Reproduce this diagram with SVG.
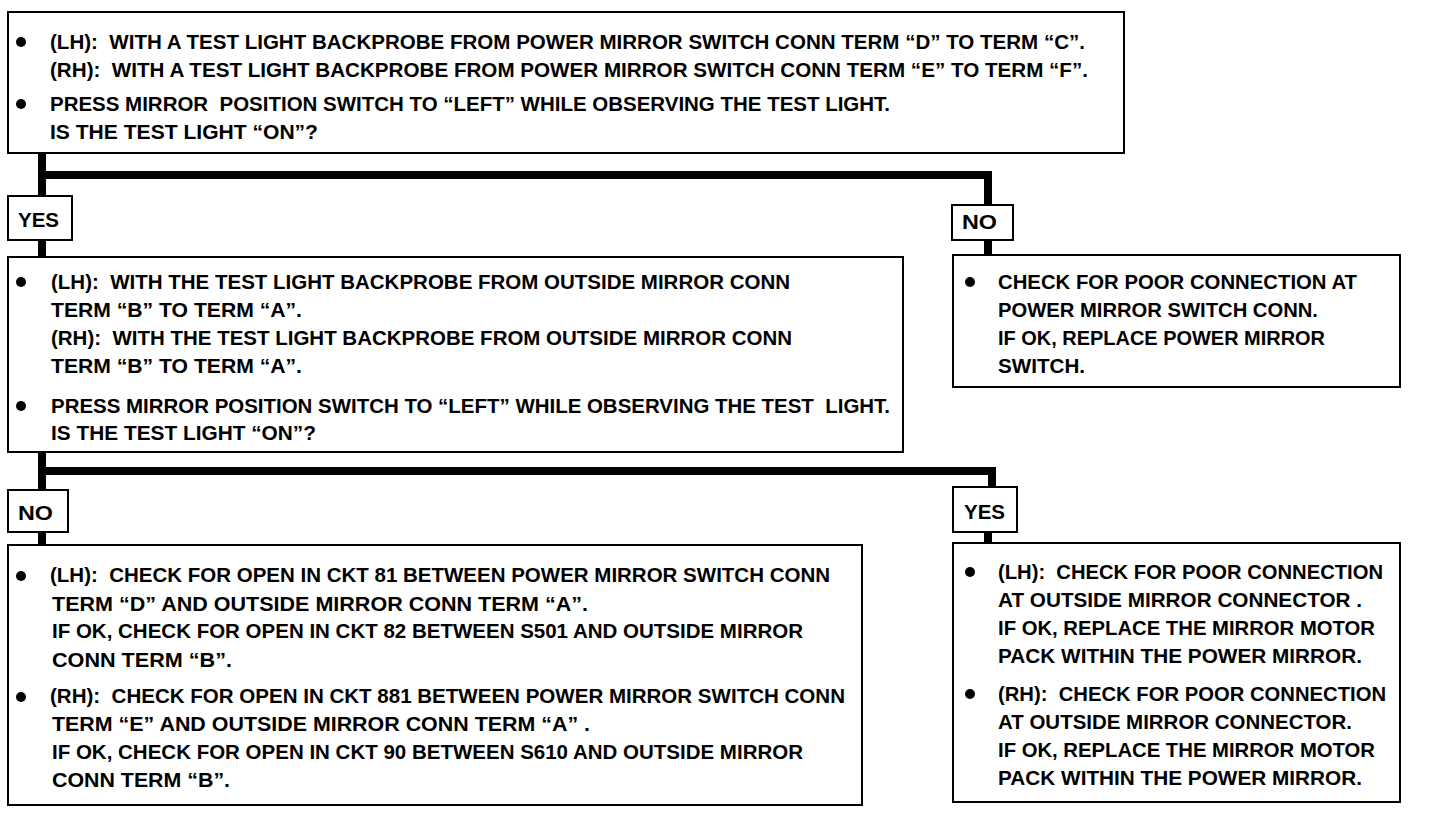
<svg xmlns="http://www.w3.org/2000/svg" width="1440" height="814" viewBox="0 0 1440 814">
<style>
.box{fill:#fff;stroke:#000;stroke-width:2}
.t{font-family:"Liberation Sans",Arial,sans-serif;font-weight:bold;font-size:20.5px;fill:#000;white-space:pre}
.c{fill:none;stroke:#000;stroke-width:8;stroke-linejoin:miter}
.b{fill:#000}
</style>
<rect width="1440" height="814" fill="#fff"/>
<g id="connectors">
<polyline class="c" points="42,153 42,196"/>
<polyline class="c" points="42,175 988,175 988,205"/>
<polyline class="c" points="42,240 42,257"/>
<polyline class="c" points="988,240 988,255"/>
<polyline class="c" points="42,452 42,490"/>
<polyline class="c" points="42,471 992,471 992,487"/>
<polyline class="c" points="42,532 42,545"/>
<polyline class="c" points="988,532 988,543"/>
</g>
<g id="q1">
<rect class="box" x="8" y="12" width="1116" height="141"/>
<circle class="b" cx="21" cy="42" r="5"/>
<circle class="b" cx="21" cy="104" r="5"/>
<text class="t" x="50" y="49" textLength="1035" lengthAdjust="spacingAndGlyphs">(LH):  WITH A TEST LIGHT BACKPROBE FROM POWER MIRROR SWITCH CONN TERM “D” TO TERM “C”.</text>
<text class="t" x="50" y="77" textLength="1038" lengthAdjust="spacingAndGlyphs">(RH):  WITH A TEST LIGHT BACKPROBE FROM POWER MIRROR SWITCH CONN TERM “E” TO TERM “F”.</text>
<text class="t" x="50" y="111" textLength="840" lengthAdjust="spacingAndGlyphs">PRESS MIRROR  POSITION SWITCH TO “LEFT” WHILE OBSERVING THE TEST LIGHT.</text>
<text class="t" x="50" y="139" textLength="268" lengthAdjust="spacingAndGlyphs">IS THE TEST LIGHT “ON”?</text>
</g>
<g id="yes1">
<rect class="box" x="8" y="196" width="64" height="44"/>
<text class="t" x="18" y="227" textLength="41" lengthAdjust="spacingAndGlyphs">YES</text>
</g>
<g id="no1">
<rect class="box" x="952" y="205" width="61" height="35"/>
<text class="t" x="962" y="229" textLength="35" lengthAdjust="spacingAndGlyphs">NO</text>
</g>
<g id="q2">
<rect class="box" x="8" y="257" width="895" height="195"/>
<circle class="b" cx="21" cy="282" r="5"/>
<circle class="b" cx="21" cy="406" r="5"/>
<text class="t" x="51" y="289" textLength="739" lengthAdjust="spacingAndGlyphs">(LH):  WITH THE TEST LIGHT BACKPROBE FROM OUTSIDE MIRROR CONN</text>
<text class="t" x="51" y="317" textLength="251" lengthAdjust="spacingAndGlyphs">TERM “B” TO TERM “A”.</text>
<text class="t" x="51" y="345" textLength="741" lengthAdjust="spacingAndGlyphs">(RH):  WITH THE TEST LIGHT BACKPROBE FROM OUTSIDE MIRROR CONN</text>
<text class="t" x="51" y="373" textLength="251" lengthAdjust="spacingAndGlyphs">TERM “B” TO TERM “A”.</text>
<text class="t" x="51" y="413" textLength="839" lengthAdjust="spacingAndGlyphs">PRESS MIRROR POSITION SWITCH TO “LEFT” WHILE OBSERVING THE TEST  LIGHT.</text>
<text class="t" x="51" y="440" textLength="265" lengthAdjust="spacingAndGlyphs">IS THE TEST LIGHT “ON”?</text>
</g>
<g id="r1">
<rect class="box" x="953" y="255" width="447" height="132"/>
<circle class="b" cx="970" cy="282" r="5"/>
<text class="t" x="998" y="289" textLength="359" lengthAdjust="spacingAndGlyphs">CHECK FOR POOR CONNECTION AT</text>
<text class="t" x="998" y="317" textLength="320" lengthAdjust="spacingAndGlyphs">POWER MIRROR SWITCH CONN.</text>
<text class="t" x="998" y="345" textLength="327" lengthAdjust="spacingAndGlyphs">IF OK, REPLACE POWER MIRROR</text>
<text class="t" x="998" y="373" textLength="87" lengthAdjust="spacingAndGlyphs">SWITCH.</text>
</g>
<g id="no2">
<rect class="box" x="8" y="490" width="60" height="42"/>
<text class="t" x="18" y="520" textLength="35" lengthAdjust="spacingAndGlyphs">NO</text>
</g>
<g id="yes2">
<rect class="box" x="953" y="487" width="64" height="45"/>
<text class="t" x="964" y="519" textLength="41" lengthAdjust="spacingAndGlyphs">YES</text>
</g>
<g id="r2">
<rect class="box" x="8" y="545" width="854" height="260"/>
<circle class="b" cx="21" cy="576" r="5"/>
<circle class="b" cx="21" cy="697" r="5"/>
<text class="t" x="50" y="582" textLength="780" lengthAdjust="spacingAndGlyphs">(LH):  CHECK FOR OPEN IN CKT 81 BETWEEN POWER MIRROR SWITCH CONN</text>
<text class="t" x="52" y="611" textLength="536" lengthAdjust="spacingAndGlyphs">TERM “D” AND OUTSIDE MIRROR CONN TERM “A”.</text>
<text class="t" x="52" y="638" textLength="751" lengthAdjust="spacingAndGlyphs">IF OK, CHECK FOR OPEN IN CKT 82 BETWEEN S501 AND OUTSIDE MIRROR</text>
<text class="t" x="52" y="667" textLength="180" lengthAdjust="spacingAndGlyphs">CONN TERM “B”.</text>
<text class="t" x="50" y="703" textLength="795" lengthAdjust="spacingAndGlyphs">(RH):  CHECK FOR OPEN IN CKT 881 BETWEEN POWER MIRROR SWITCH CONN</text>
<text class="t" x="52" y="731" textLength="538" lengthAdjust="spacingAndGlyphs">TERM “E” AND OUTSIDE MIRROR CONN TERM “A” .</text>
<text class="t" x="52" y="759" textLength="751" lengthAdjust="spacingAndGlyphs">IF OK, CHECK FOR OPEN IN CKT 90 BETWEEN S610 AND OUTSIDE MIRROR</text>
<text class="t" x="52" y="787" textLength="178" lengthAdjust="spacingAndGlyphs">CONN TERM “B”.</text>
</g>
<g id="r3">
<rect class="box" x="953" y="543" width="447" height="259"/>
<circle class="b" cx="970" cy="572" r="5"/>
<circle class="b" cx="970" cy="694" r="5"/>
<text class="t" x="998" y="579" textLength="385" lengthAdjust="spacingAndGlyphs">(LH):  CHECK FOR POOR CONNECTION</text>
<text class="t" x="998" y="607" textLength="364" lengthAdjust="spacingAndGlyphs">AT OUTSIDE MIRROR CONNECTOR .</text>
<text class="t" x="998" y="635" textLength="377" lengthAdjust="spacingAndGlyphs">IF OK, REPLACE THE MIRROR MOTOR</text>
<text class="t" x="998" y="663" textLength="364" lengthAdjust="spacingAndGlyphs">PACK WITHIN THE POWER MIRROR.</text>
<text class="t" x="998" y="701" textLength="388" lengthAdjust="spacingAndGlyphs">(RH):  CHECK FOR POOR CONNECTION</text>
<text class="t" x="998" y="729" textLength="354" lengthAdjust="spacingAndGlyphs">AT OUTSIDE MIRROR CONNECTOR.</text>
<text class="t" x="998" y="757" textLength="377" lengthAdjust="spacingAndGlyphs">IF OK, REPLACE THE MIRROR MOTOR</text>
<text class="t" x="998" y="785" textLength="364" lengthAdjust="spacingAndGlyphs">PACK WITHIN THE POWER MIRROR.</text>
</g>
</svg>
